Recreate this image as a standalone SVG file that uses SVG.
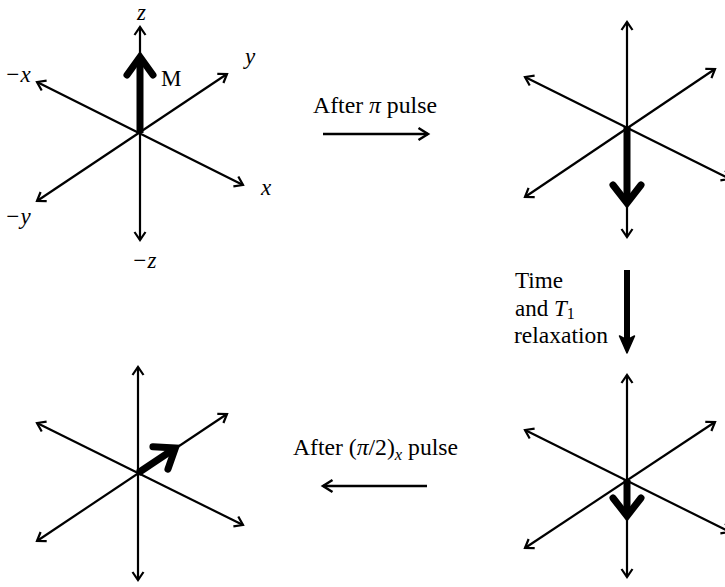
<svg xmlns="http://www.w3.org/2000/svg" width="725" height="587" viewBox="0 0 725 587">
<style>
.axis{stroke:#000;stroke-width:2.2;fill:none;marker-start:url(#ah);marker-end:url(#ah)}
.thin{stroke:#000;stroke-width:2.5;fill:none;marker-end:url(#ah2)}
.mshaft{stroke:#000;stroke-width:7;fill:none;stroke-linecap:butt}
.mhead{stroke:#000;stroke-width:7;fill:none;stroke-linecap:round;stroke-linejoin:miter;stroke-miterlimit:10}
.t{font-family:"Liberation Serif","Times New Roman",Times,serif;font-size:23px;fill:#000}
.lab{font-family:"Liberation Serif","Times New Roman",Times,serif;font-size:23px;font-style:italic;fill:#000}
.it{font-style:italic}
</style>
<defs>
<marker id="ah" markerUnits="userSpaceOnUse" markerWidth="20" markerHeight="20" refX="0" refY="0" orient="auto-start-reverse" overflow="visible">
<path d="M-8,-5.5 L0,0 L-8,5.5" fill="none" stroke="#000" stroke-width="2.2" stroke-linejoin="miter"/>
</marker>
<marker id="ah2" markerUnits="userSpaceOnUse" markerWidth="20" markerHeight="20" refX="0" refY="0" orient="auto" overflow="visible">
<path d="M-9.5,-6 L0,0 L-9.5,6" fill="none" stroke="#000" stroke-width="2.5" stroke-linejoin="miter"/>
</marker>
</defs>
<rect width="725" height="587" fill="#fff"/>

<g id="diagram1" transform="translate(140,133)">
<line class="axis" x1="0" y1="-106" x2="0" y2="107"/>
<line class="axis" x1="-103" y1="-51" x2="103" y2="52"/>
<line class="axis" x1="-103" y1="68" x2="87" y2="-59"/>
<line class="mshaft" x1="0" y1="0" x2="0" y2="-75"/>
<path class="mhead" d="M-13,-58 L0,-76 L13,-58"/>
</g>
<g id="labels1">
<text class="lab" x="137" y="20">z</text>
<text class="lab" x="5" y="82">−x</text>
<text class="lab" x="245" y="64">y</text>
<text class="t" x="161" y="86">M</text>
<text class="lab" x="261" y="195">x</text>
<text class="lab" x="5" y="224">−y</text>
<text class="lab" x="132" y="268">−z</text>
</g>

<g id="diagram2" transform="translate(627,127)">
<line class="axis" x1="0" y1="-105" x2="0" y2="110"/>
<line class="axis" x1="-102" y1="-50" x2="103" y2="52"/>
<line class="axis" x1="-102" y1="70" x2="88" y2="-58"/>
<line class="mshaft" x1="0" y1="0" x2="0" y2="76"/>
<path class="mhead" d="M-14,58 L0,76 L14,58"/>
</g>

<g id="diagram3" transform="translate(627,480)">
<line class="axis" x1="0" y1="-105" x2="0" y2="97"/>
<line class="axis" x1="-102" y1="-50" x2="103" y2="52"/>
<line class="axis" x1="-102" y1="68" x2="88" y2="-58"/>
<line class="mshaft" x1="0" y1="0" x2="0" y2="36"/>
<path class="mhead" d="M-14,18 L0,36 L14,18"/>
</g>

<g id="diagram4" transform="translate(138,473)">
<line class="axis" x1="0" y1="-106" x2="0" y2="107"/>
<line class="axis" x1="-101" y1="-50" x2="105" y2="52"/>
<line class="axis" x1="-101" y1="68" x2="89" y2="-59"/>
<g transform="rotate(-33.8)">
<line class="mshaft" x1="0" y1="0" x2="45" y2="0"/>
<path class="mhead" d="M27,-13.5 L45,0 L27,13.5"/>
</g>
</g>

<g id="connectors">
<line class="thin" x1="323" y1="134" x2="428" y2="134"/>
<line class="thin" x1="427" y1="486" x2="323" y2="486"/>
<line x1="627" y1="270" x2="627" y2="342" stroke="#000" stroke-width="6"/>
<path d="M627,353 L619.5,336 L627,340 L634.5,336 Z" fill="#000" stroke="#000" stroke-width="1.5" stroke-linejoin="round"/>
</g>

<g id="text-labels">
<text class="t" x="313" y="113" textLength="124" lengthAdjust="spacingAndGlyphs">After <tspan class="it">π</tspan> pulse</text>
<text class="t" x="293" y="455" textLength="165" lengthAdjust="spacingAndGlyphs">After (<tspan class="it">π</tspan>/2)<tspan class="it" font-size="16" dy="5">x</tspan><tspan dy="-5"> pulse</tspan></text>
<text class="t" x="515" y="288" textLength="48" lengthAdjust="spacingAndGlyphs">Time</text>
<text class="t" x="515" y="316">and <tspan class="it">T</tspan><tspan font-size="16" dy="3">1</tspan></text>
<text class="t" x="514" y="343" textLength="94" lengthAdjust="spacingAndGlyphs">relaxation</text>
</g>
</svg>
